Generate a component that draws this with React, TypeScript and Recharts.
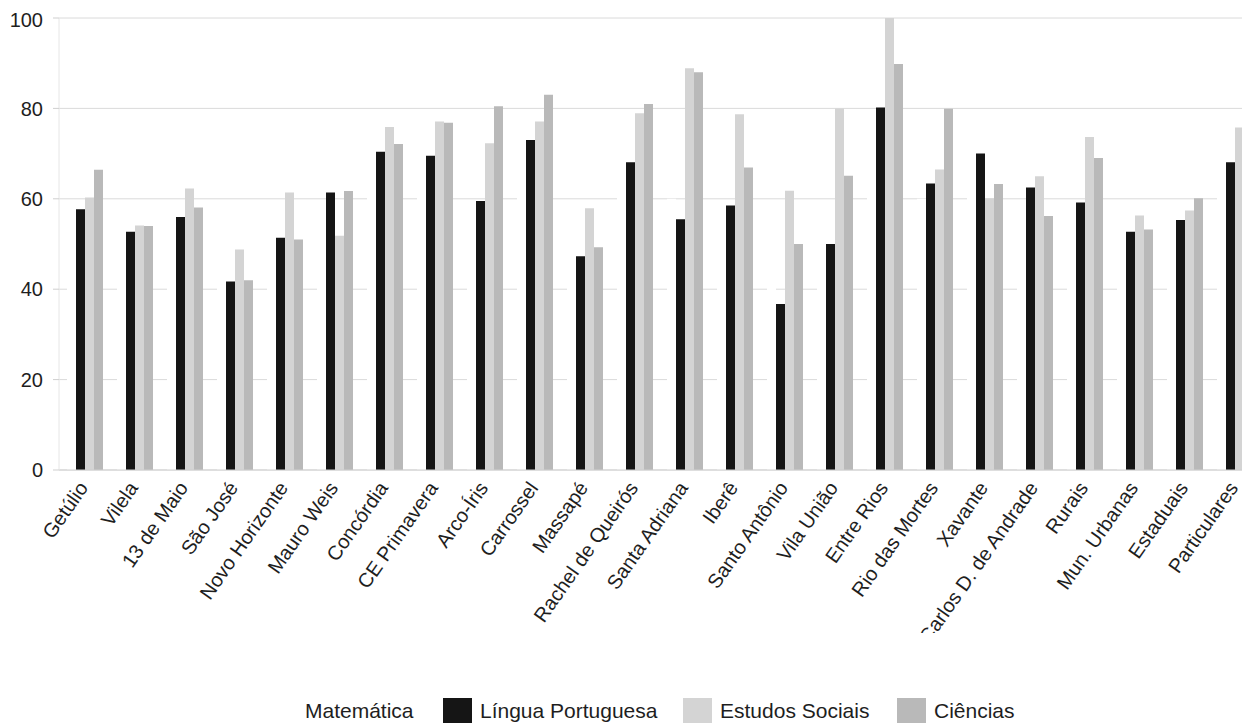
import { BarChart, Bar, XAxis, YAxis, CartesianGrid, Legend } from "recharts"

const schools = [
  "Getúlio", "Vilela", "13 de Maio", "São José", "Novo Horizonte", "Mauro Weis",
  "Concórdia", "CE Primavera", "Arco-Íris", "Carrossel", "Massapé", "Rachel de Queirós",
  "Santa Adriana", "Iberê", "Santo Antônio", "Vila União", "Entre Rios", "Rio das Mortes",
  "Xavante", "Carlos D. de Andrade", "Rurais", "Mun. Urbanas", "Estaduais", "Particulares",
]

// Matemática bars are printed white in the source, so these are rough guesses
const matematica = [55, 50, 54, 44, 48, 56, 68, 66, 58, 70, 46, 64, 60, 57, 42, 48, 75, 60, 62, 58, 55, 50, 53, 66]
const linguaPortuguesa = [57.7, 52.7, 56, 41.7, 51.4, 61.4, 70.4, 69.5, 59.5, 73, 47.3, 68.1, 55.5, 58.5, 36.7, 50, 80.2, 63.4, 70, 62.5, 59.2, 52.7, 55.3, 68.1]
const estudosSociais = [60.3, 54.1, 62.3, 48.8, 61.4, 51.8, 75.9, 77.1, 72.3, 77.1, 57.9, 78.9, 88.9, 78.7, 61.8, 80, 100, 66.5, 60.1, 65, 73.7, 56.3, 57.4, 75.8]
const ciencias = [66.4, 54, 58.1, 42, 51, 61.7, 72.1, 76.8, 80.5, 83, 49.3, 81, 88, 66.9, 50, 65.1, 89.8, 79.9, 63.3, 56.2, 69, 53.2, 60.1, 78.2]

const yTicks = [0, 20, 40, 60, 80, 100]

const series = [
  { key: "matematica", name: "Matemática", color: "#ffffff", values: matematica },
  { key: "lingua", name: "Língua Portuguesa", color: "#151515", values: linguaPortuguesa },
  { key: "estudos", name: "Estudos Sociais", color: "#d4d4d4", values: estudosSociais },
  { key: "ciencias", name: "Ciências", color: "#b9b9b9", values: ciencias },
]

const data = schools.map((school, i) => {
  const row: Record<string, string | number> = { school }
  series.forEach((s) => {
    row[s.key] = s.values[i]
  })
  return row
})

const font = "'Liberation Sans', Arial, Helvetica, sans-serif"

function SchoolTick({ x, y, payload }: any) {
  const tx = x + 5
  const ty = y + 10
  return (
    <text
      x={tx}
      y={ty}
      transform={`rotate(-55 ${tx} ${ty})`}
      textAnchor="end"
      fontSize={20}
      fontFamily={font}
      fill="#1e1e1e"
    >
      {payload.value}
    </text>
  )
}

// legend sits below the svg, which is cut short like the original print
function LegendRow() {
  const lefts = [260, 435, 675, 889]
  return (
    <div style={{ position: "relative", height: 30, fontFamily: font, fontSize: 21, color: "#1e1e1e" }}>
      {series.map((s, i) => (
        <div key={s.key} style={{ position: "absolute", left: lefts[i], top: 0, display: "flex", alignItems: "flex-start" }}>
          <div style={{ width: 29, height: 26, background: s.color }} />
          <span style={{ marginLeft: 8, marginTop: 1, whiteSpace: "nowrap" }}>{s.name}</span>
        </div>
      ))}
    </div>
  )
}

export default function App() {
  return (
    <div style={{ width: 1242, height: 715, overflow: "hidden", position: "relative" }}>
      <BarChart
        width={1260}
        height={625}
        data={data}
        margin={{ top: 10, right: 9, bottom: 0, left: 0 }}
        barCategoryGap={8}
        barGap={0}
      >
        <CartesianGrid vertical={false} stroke="#dadada" />
        <XAxis
          dataKey="school"
          interval={0}
          height={163}
          tick={<SchoolTick />}
          tickLine={false}
          axisLine={{ stroke: "#cfcfcf" }}
        />
        <YAxis
          domain={[0, 100]}
          ticks={yTicks}
          width={51}
          tickSize={6}
          tickMargin={10}
          axisLine={{ stroke: "#e6e6e6" }}
          tickLine={{ stroke: "#cfcfcf" }}
          tick={{ fontSize: 20, fontFamily: font, fill: "#1e1e1e" }}
        />
        <Legend
          content={<LegendRow />}
          layout="horizontal"
          align="center"
          verticalAlign="middle"
          wrapperStyle={{ top: 690, left: 0, width: 1242 }}
        />
        {series.map((s) => (
          <Bar key={s.key} dataKey={s.key} name={s.name} fill={s.color} isAnimationActive={false} />
        ))}
      </BarChart>
    </div>
  )
}
